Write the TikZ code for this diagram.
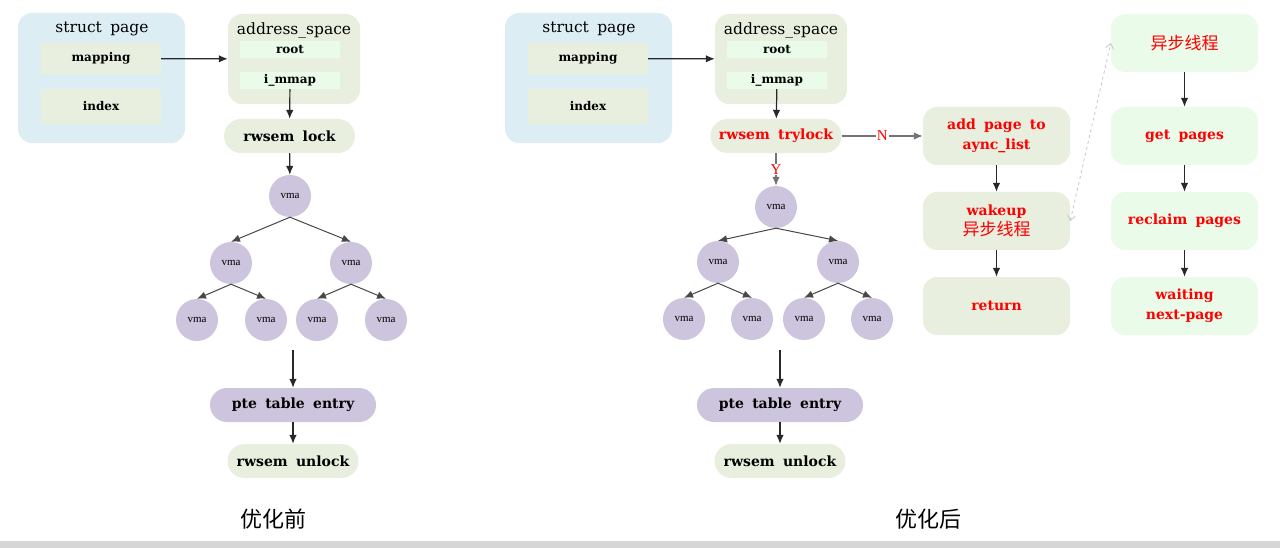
\documentclass[tikz,border=0pt]{standalone}
\usepackage{fontspec}
\setmainfont{Liberation Serif}
\newfontfamily\nodefont[WordSpace=1.7]{DejaVu Serif}
\newfontfamily\cjk{Noto Sans CJK SC}
\usepackage{tikz}
\usetikzlibrary{arrows.meta,positioning,calc}
\usepackage{xcolor}
\definecolor{pageblue}{RGB}{220,237,243}
\definecolor{softolive}{RGB}{233,239,223}
\definecolor{mintgreen}{RGB}{234,251,233}
\definecolor{vmapurple}{RGB}{205,196,221}
\definecolor{alertred}{RGB}{255,0,0}
\definecolor{flowgray}{RGB}{40,40,40}
\tikzset{
  pagebox/.style={fill=pageblue,rounded corners=14pt,minimum width=167,minimum height=130,inner sep=0pt},
  spacebox/.style={fill=softolive,rounded corners=14pt,minimum width=132,minimum height=90,inner sep=0pt},
  titletext/.style={font=\nodefont\fontsize{15.5}{16}\selectfont,inner sep=1pt},
  fieldbox/.style={fill=softolive,minimum width=120,minimum height=31,inner sep=0pt,
    font=\nodefont\bfseries\fontsize{12}{14}\selectfont},
  slotbox/.style={fill=mintgreen,minimum width=100,minimum height=17,inner sep=0pt,
    font=\nodefont\bfseries\fontsize{12}{14}\selectfont},
  pillg/.style={fill=softolive,rounded corners=17pt,minimum width=131,minimum height=34,inner sep=0pt,
    font=\nodefont\bfseries\fontsize{14}{16}\selectfont},
  pillp/.style={pillg,fill=vmapurple,minimum width=166},
  vma/.style={circle,fill=vmapurple,minimum size=42,inner sep=0pt,font=\fontsize{11}{12}\selectfont},
  stepg/.style={fill=softolive,rounded corners=14pt,minimum width=147,minimum height=58,inner sep=0pt,
    align=center,text=alertred,font=\nodefont\bfseries\fontsize{14}{20}\selectfont},
  stepm/.style={stepg,fill=mintgreen},
  flow/.style={-{Latex[length=9pt,width=7.5pt]},line width=1.2pt,draw=flowgray},
  branch/.style={flow,draw=flowgray!85,line width=1pt},
  wakelink/.style={{Straight Barb[length=5pt,width=8pt]}-{Straight Barb[length=5pt,width=8pt]},dashed,line width=0.8pt,draw=black!22},
  choice/.style={text=alertred,fill=white,inner sep=1pt,font=\fontsize{15}{16}\selectfont},
  caption/.style={font=\cjk\fontsize{22}{24}\selectfont},
  cjkred/.style={font=\cjk\mdseries\fontsize{17}{20}\selectfont}
}
\begin{document}
\begin{tikzpicture}[x=1pt,y=-1pt]
  \useasboundingbox (0,0) rectangle (1280,548);
  \fill[black!16] (0,541) rectangle (1280,548);
  % before
  \node[pagebox] (lpage) at (101.5,78) {};
  \node[titletext] (lpagetitle) at (102,29) {struct page};
  \node[fieldbox] (lmapping) at (101,58.5) {mapping};
  \node[fieldbox,minimum height=35] (lindex) at (101,106.5) {index};
  \node[spacebox] (lspace) at (294,59) {};
  \node[titletext] (lspacetitle) at (294,30) {address\_space};
  \node[slotbox] (lroot) at (290,49.5) {root};
  \node[slotbox] (limmap) at (290,80.5) {i\_mmap};
  \node[pillg] (llock) at (289.5,136) {rwsem lock};
  \node[vma] (lvmaa) at (290,196) {vma};
  \node[vma] (lvmab) at (231,263) {vma};
  \node[vma] (lvmac) at (351,263) {vma};
  \node[vma] (lvmad) at (197,320) {vma};
  \node[vma] (lvmae) at (266,320) {vma};
  \node[vma] (lvmaf) at (317,320) {vma};
  \node[vma] (lvmag) at (386,320) {vma};
  \coordinate (ltreeend) at (293,350);
  \node[pillp] (lpte) at (293,405) {pte table entry};
  \node[pillg] (lunlock) at (293,461) {rwsem unlock};
  \node[caption] (lcaption) at (273,519) {优化前};
  \draw[flow] (lmapping) -- (lspace);
  \draw[flow] (limmap) -- (llock);
  \draw[flow] (llock) -- (lvmaa);
  \draw[branch] (lvmaa.south) -- (lvmab.north);
  \draw[branch] (lvmaa.south) -- (lvmac.north);
  \draw[branch] (lvmab.south) -- (lvmad.north);
  \draw[branch] (lvmab.south) -- (lvmae.north);
  \draw[branch] (lvmac.south) -- (lvmaf.north);
  \draw[branch] (lvmac.south) -- (lvmag.north);
  \draw[flow] (ltreeend) -- (lpte);
  \draw[flow] (lpte) -- (lunlock);
  % after
  \node[pagebox] (rpage) at (588.5,78) {};
  \node[titletext] (rpagetitle) at (589,29) {struct page};
  \node[fieldbox] (rmapping) at (588,58.5) {mapping};
  \node[fieldbox,minimum height=35] (rindex) at (588,106.5) {index};
  \node[spacebox] (rspace) at (781,59) {};
  \node[titletext] (rspacetitle) at (781,30) {address\_space};
  \node[slotbox] (rroot) at (777,49.5) {root};
  \node[slotbox] (rimmap) at (777,80.5) {i\_mmap};
  \node[pillg,text=alertred] (rlock) at (776,136) {rwsem trylock};
  \node[vma] (rvmaa) at (776,207) {vma};
  \node[vma] (rvmab) at (718,262) {vma};
  \node[vma] (rvmac) at (838,262) {vma};
  \node[vma] (rvmad) at (684,319) {vma};
  \node[vma] (rvmae) at (752,319) {vma};
  \node[vma] (rvmaf) at (804,319) {vma};
  \node[vma] (rvmag) at (872,319) {vma};
  \coordinate (rtreeend) at (780,350);
  \node[pillp] (rpte) at (780,405) {pte table entry};
  \node[pillg] (runlock) at (780,461) {rwsem unlock};
  \node[caption] (rcaption) at (928,519) {优化后};
  \node[stepg] (addpage) at (996.5,136) {add page to\\aync\_list};
  \node[stepg] (wakeup) at (996.5,221) {wakeup\\{\cjk\mdseries\fontsize{17}{20}\selectfont 异步线程}};
  \node[stepm,cjkred] (worker) at (1184.5,43) {异步线程};
  \node[stepm] (getpages) at (1184.5,136) {get pages};
  \node[stepm] (reclaim) at (1184.5,221) {reclaim pages};
  \node[stepg] (return) at (996.5,306) {return};
  \node[stepm] (waiting) at (1184.5,306) {waiting\\next-page};
  \draw[flow] (rmapping) -- (rspace);
  \draw[flow] (rimmap) -- (rlock);
  \draw[flow,draw=black!55] (rlock) -- node[choice] {Y} (rvmaa);
  \draw[flow,draw=black!55] (rlock) -- node[choice] {N} (addpage);
  \draw[branch] (rvmaa.south) -- (rvmab.north);
  \draw[branch] (rvmaa.south) -- (rvmac.north);
  \draw[branch] (rvmab.south) -- (rvmad.north);
  \draw[branch] (rvmab.south) -- (rvmae.north);
  \draw[branch] (rvmac.south) -- (rvmaf.north);
  \draw[branch] (rvmac.south) -- (rvmag.north);
  \draw[flow] (rtreeend) -- (rpte);
  \draw[flow] (rpte) -- (runlock);
  \draw[flow] (addpage) -- (wakeup);
  \draw[flow] (wakeup) -- (return);
  \draw[wakelink] (wakeup.east) -- (worker.west);
  \draw[flow] (worker) -- (getpages);
  \draw[flow] (getpages) -- (reclaim);
  \draw[flow] (reclaim) -- (waiting);
\end{tikzpicture}
\end{document}
